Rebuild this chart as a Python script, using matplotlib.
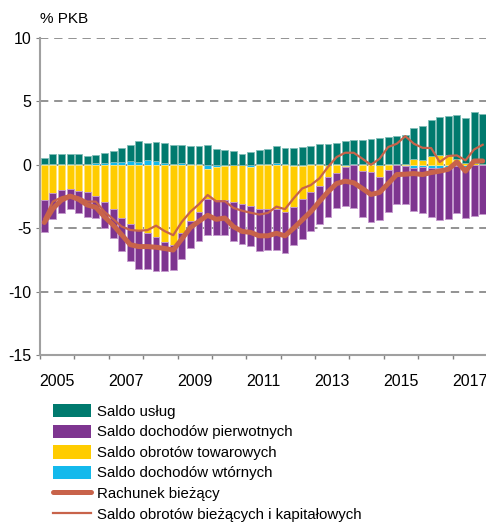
import numpy as np
import matplotlib
matplotlib.use("Agg")
import matplotlib.pyplot as plt
from matplotlib.patches import Patch
from matplotlib.lines import Line2D

plt.rcParams["font.family"] = ["Liberation Sans", "DejaVu Sans"]

# quarterly data, 2005Q1 - 2017Q4, % PKB
quarters = np.arange(2005, 2018, 0.25) + 0.125

saldo_uslug = [0.47, 0.74, 0.79, 0.76, 0.74, 0.60, 0.65, 0.75,
               0.92, 1.07, 1.30, 1.63, 1.35, 1.52, 1.54, 1.47,
               1.43, 1.40, 1.42, 1.53, 1.24, 1.16, 1.06, 0.82,
               0.99, 1.08, 1.21, 1.27, 1.27, 1.32, 1.40, 1.40,
               1.61, 1.66, 1.69, 1.86, 1.89, 1.84, 1.95, 2.10,
               2.13, 2.25, 2.31, 2.42, 2.67, 2.86, 3.06, 3.11,
               3.42, 3.57, 4.06, 3.96]

saldo_pierwotnych = [-2.53, -2.10, -1.80, -1.62, -1.80, -2.00, -1.75, -2.10,
                     -2.27, -2.62, -2.90, -3.10, -2.82, -2.64, -2.24, -2.00,
                     -2.05, -2.15, -2.30, -2.80, -2.73, -2.72, -3.10, -3.18,
                     -3.13, -3.32, -3.25, -3.25, -3.25, -3.00, -3.13, -3.13,
                     -2.98, -3.15, -2.74, -3.05, -3.35, -3.65, -3.95, -3.40,
                     -3.27, -3.02, -3.02, -3.40, -3.63, -3.85, -4.12, -4.10,
                     -3.68, -4.02, -3.95, -3.80]

saldo_towarowych = [-2.74, -2.20, -2.00, -1.88, -2.04, -2.14, -2.48, -2.90,
                    -3.50, -4.18, -4.70, -5.14, -5.40, -5.70, -6.10, -6.30,
                    -5.40, -4.45, -3.70, -2.34, -2.59, -2.70, -2.90, -3.05,
                    -3.10, -3.50, -3.50, -3.50, -3.70, -3.20, -2.63, -2.13,
                    -1.68, -0.90, -0.64, -0.10, -0.05, -0.45, -0.55, -0.90,
                    -0.43, -0.05, 0.05, 0.48, 0.37, 0.68, 0.74, 0.74,
                    0.48, 0.15, 0.14, 0.07]

saldo_wtornych = [0.08, 0.10, 0.10, 0.08, 0.10, 0.10, 0.12, 0.15,
                  0.20, 0.25, 0.30, 0.25, 0.35, 0.30, 0.15, 0.10,
                  0.15, 0.10, 0.05, -0.36, -0.18, -0.08, 0.00, -0.05,
                  -0.15, 0.05, 0.05, 0.18, 0.05, -0.10, -0.10, 0.05,
                  0.05, -0.05, 0.05, -0.10, 0.05, 0.10, 0.05, -0.05,
                  0.05, 0.05, -0.10, -0.25, -0.20, -0.25, -0.25, -0.20,
                  -0.10, -0.15, -0.05, -0.05]

rachunek_biezacy = [-4.55, -3.45, -2.78, -2.47, -2.73, -3.17, -3.35, -4.10,
                    -4.74, -5.52, -6.30, -6.45, -6.45, -6.50, -6.60, -6.72,
                    -5.85, -4.95, -4.45, -3.98, -4.30, -4.20, -4.88, -5.25,
                    -5.33, -5.60, -5.60, -5.40, -5.60, -5.00, -4.35, -3.70,
                    -2.90, -2.13, -1.48, -1.29, -1.42, -1.87, -2.34, -2.18,
                    -1.48, -0.77, -0.74, -0.69, -0.77, -0.61, -0.50, -0.35,
                    0.22, -0.50, 0.30, 0.30]

saldo_biez_kap = [-4.25, -2.90, -2.57, -2.39, -2.57, -2.90, -2.90, -3.70,
                  -4.27, -4.87, -5.14, -5.20, -5.15, -4.80, -5.23, -5.55,
                  -4.50, -3.70, -3.10, -2.38, -2.88, -2.87, -3.40, -3.62,
                  -3.78, -3.92, -3.80, -3.30, -3.50, -2.65, -1.87, -1.60,
                  -1.07, -0.17, 0.61, 0.95, 0.95, 0.48, 0.00, 0.48,
                  1.40, 1.66, 2.26, 1.66, 1.34, 1.32, 0.22, 0.70,
                  0.74, 0.35, 1.21, 1.58]

year_labels = ["2005", "2007", "2009", "2011", "2013", "2015", "2017"]

# colors
c_uslug = "#007a6e"
c_pierw = "#7e3590"
c_tow = "#ffcc00"
c_wt = "#14b9ec"
c_line = "#c8634a"

fig = plt.figure(figsize=(4.86, 5.25), dpi=100)
ax = fig.add_axes([40 / 486, 1 - 355 / 525, 447 / 486, 317 / 525])

# stacking: positives and negatives stacked separately
series = [(saldo_wtornych, c_wt, "#8fdcf5"),
          (saldo_towarowych, c_tow, "#ffe680"),
          (saldo_uslug, c_uslug, "#80bdb6"),
          (saldo_pierwotnych, c_pierw, "#c49acd")]
pos_base = np.zeros(len(quarters))
neg_base = np.zeros(len(quarters))
for vals, col, edge in series:
    v = np.array(vals)
    base = np.where(v >= 0, pos_base, neg_base)
    ax.bar(quarters, v, width=0.2, bottom=base, color=col,
           edgecolor=edge, linewidth=0.6, zorder=2)
    pos_base = pos_base + np.clip(v, 0, None)
    neg_base = neg_base + np.clip(v, None, 0)

ax.plot(quarters, rachunek_biezacy, color=c_line, lw=3.6, zorder=4,
        solid_capstyle="round", solid_joinstyle="round")
ax.plot(quarters, saldo_biez_kap, color=c_line, lw=1.6, zorder=5,
        solid_joinstyle="round")

ax.set_xlim(2005, 2018)
ax.set_ylim(-15, 10)
for yv in [10, 5, 0, -5, -10]:
    ax.axhline(yv, color="#808080", lw=1.2, linestyle=(0, (5, 3.5)), zorder=1)

ax.set_yticks([10, 5, 0, -5, -10, -15])
ax.set_yticklabels(["10", "5", "0", "-5", "-10", "-15"])
ax.set_xticks(np.arange(2005, 2019, 1))
ax.set_xticklabels([])
ax.set_xticks([int(y) + 0.5 for y in year_labels], minor=True)
ax.set_xticklabels(year_labels, minor=True)
ax.tick_params(axis="x", which="major", length=3, color="#808080", width=1)
ax.tick_params(axis="x", which="minor", length=0, pad=14, labelsize=11.5)
ax.tick_params(axis="y", length=3, color="#808080", labelsize=11.5, pad=3)

for s in ["top", "right"]:
    ax.spines[s].set_visible(False)
for s in ["left", "bottom"]:
    ax.spines[s].set_color("#a0a0a0")
    ax.spines[s].set_linewidth(1.5)

fig.text(40 / 486, 1 - 19 / 525, "% PKB", fontsize=11, va="center", ha="left")

handles = [Patch(facecolor=c_uslug, edgecolor="none"),
           Patch(facecolor=c_pierw, edgecolor="none"),
           Patch(facecolor=c_tow, edgecolor="none"),
           Patch(facecolor=c_wt, edgecolor="none"),
           Line2D([], [], color=c_line, lw=3.6, solid_capstyle="round"),
           Line2D([], [], color=c_line, lw=1.6)]
labels = ["Saldo usług", "Saldo dochodów pierwotnych", "Saldo obrotów towarowych",
          "Saldo dochodów wtórnych", "Rachunek bieżący",
          "Saldo obrotów bieżących i kapitałowych"]
fig.legend(handles, labels, loc="upper left", bbox_to_anchor=(53 / 486, 1 - 404 / 525),
           frameon=False, fontsize=10.8, handlelength=2.55, handleheight=1.0,
           handletextpad=0.4, labelspacing=0.38, borderpad=0, borderaxespad=0)

fig.savefig("out.png", dpi=100)
